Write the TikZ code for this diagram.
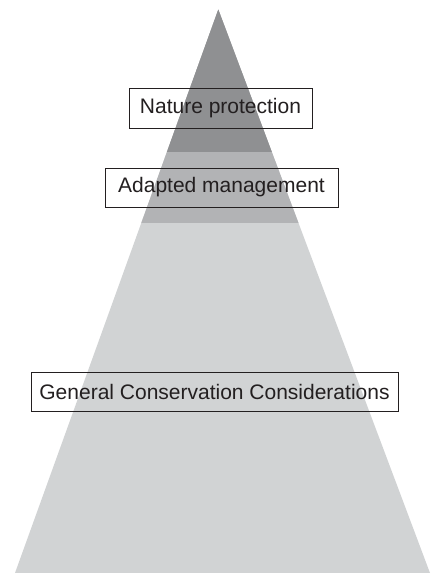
\documentclass[tikz,border=0pt]{standalone}
\usepackage{fontspec}
\setmainfont{Liberation Sans}
\usepackage{tikz}
\usetikzlibrary{positioning,calc}

\definecolor{topgray}{HTML}{8F9092}
\definecolor{midgray}{HTML}{B2B3B5}
\definecolor{basegray}{HTML}{D1D3D4}
\definecolor{labeltext}{HTML}{231F20}

\begin{document}
\begin{tikzpicture}[
    x=1pt, y=-1pt,
    font=\fontsize{21}{24}\selectfont,
    level_box/.style={draw=labeltext, line width=0.9pt, text=labeltext, rectangle, inner sep=0pt, align=center}
]
\useasboundingbox (0,0) rectangle (435,573);

\coordinate (apex) at (218.3,9.5);
\coordinate (baseL) at (15,573);
\coordinate (baseR) at (430,573);

\begin{scope}
  \clip (apex) -- (baseR) -- (baseL) -- cycle;
  \fill[basegray] (0,0) rectangle (435,573);
  \fill[midgray] (0,0) rectangle (435,222.7);
  \fill[topgray] (0,0) rectangle (435,151.5);
\end{scope}

\node[level_box, minimum width=183pt, minimum height=40pt] (nature) at (220.5,108) {Nature protection};
\node[level_box, minimum width=233pt, minimum height=39pt] (adapted) at (221.5,187.5) {Adapted management};
\node[level_box, minimum width=367pt, minimum height=39pt] (general) at (214.5,391.5) {General Conservation Considerations};

\end{tikzpicture}
\end{document}
